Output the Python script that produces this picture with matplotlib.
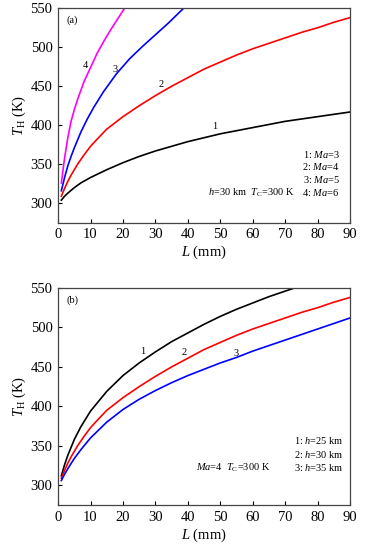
import matplotlib
matplotlib.use("Agg")
import matplotlib.pyplot as plt

plt.rcParams['font.family'] = ['Liberation Serif', 'DejaVu Serif']
plt.rcParams['mathtext.fontset'] = 'custom'
plt.rcParams['mathtext.rm'] = 'Liberation Serif'
plt.rcParams['mathtext.it'] = 'Liberation Serif:italic'

# panel (a): h=30 km, Tc=300 K, different Ma
L_ma3 = [1, 2, 3, 5, 7, 10, 15, 20, 25, 30, 35, 40, 45, 50, 60, 70, 80, 90]
ma3 = [304, 309, 313, 320, 326, 333, 343, 352, 360, 367, 373, 379, 384, 389, 397, 405, 411, 417]
L_ma4 = [1, 2, 3, 4, 5, 6, 7, 8, 10, 12, 15, 20, 25, 30, 35, 40, 45, 50, 55, 60, 65, 70,
         75, 80, 85, 90]
ma4 = [309, 319, 328, 336, 343, 350, 356, 362, 373, 382, 395, 411, 425, 438, 450, 461,
       472, 481, 490, 498, 505, 512, 519, 525, 532, 538]
L_ma5 = [1, 2, 3, 4, 5, 7, 9, 11, 14, 18, 22, 26, 30, 34, 38.7]
ma5 = [316, 333, 348, 360, 371, 391, 408, 423, 443, 466, 485, 501, 516, 531, 550]
L_ma6 = [1, 2, 3, 4, 5, 6, 8, 10, 12, 14, 16, 18, 20.5]
ma6 = [326, 358, 384, 405, 420, 433, 456, 474, 492, 507, 521, 534, 550]

# panel (b): Ma=4, Tc=300 K, different h
L_h25 = [1, 2, 3, 5, 7, 10, 15, 20, 25, 30, 35, 40, 45, 50, 55, 60, 65, 70, 72.9]
h25 = [312, 326, 338, 358, 374, 394, 419, 439, 455, 469, 482, 493, 504, 514, 523, 531,
       539, 546, 550]
L_h30 = L_ma4
h30 = ma4
L_h35 = [1, 2, 3, 5, 7, 10, 15, 20, 25, 30, 35, 40, 45, 50, 55, 60, 65, 70, 75, 80, 85, 90]
h35 = [306, 314, 321, 334, 345, 360, 380, 396, 409, 420, 430, 439, 447, 455, 462, 470,
       477, 484, 491, 498, 505, 512]

xticks = [0, 10, 20, 30, 40, 50, 60, 70, 80, 90]
yticks = [300, 350, 400, 450, 500, 550]

fig = plt.figure(figsize=(3.7, 5.5), dpi=100)
ax1 = fig.add_axes([0.157, 0.595, 0.789, 0.390])
ax2 = fig.add_axes([0.157, 0.0818, 0.789, 0.3946])

for ax in (ax1, ax2):
    ax.set_xlim(0, 90)
    ax.set_ylim(275, 550)
    ax.set_xticks(xticks)
    ax.set_yticks(yticks)
    ax.tick_params(direction='in', labelsize=10.5, length=3, width=0.8, pad=4)
    ax.set_xlabel('$L$ (mm)', fontsize=10.5, labelpad=2)
    ax.set_ylabel('$T_\\mathrm{H}$ (K)', fontsize=10.5, labelpad=2)
    for s in ax.spines.values():
        s.set_linewidth(0.9)
        s.set_color('#444444')

lw = 1.2
ax1.plot(L_ma3, ma3, color='black', lw=lw)
ax1.plot(L_ma4, ma4, color='red', lw=lw)
ax1.plot(L_ma5, ma5, color='blue', lw=lw)
ax1.plot(L_ma6, ma6, color='magenta', lw=lw)

fs = 7.5
ax1.text(48.3, 398, '1', fontsize=fs, ha='center', va='center')
ax1.text(31.9, 452, '2', fontsize=fs, ha='center', va='center')
ax1.text(17.6, 471, '3', fontsize=fs, ha='center', va='center')
ax1.text(8.4, 477, '4', fontsize=fs, ha='center', va='center')
ax1.text(2.6, 535, '(a)', fontsize=fs, ha='left', va='center')
ax1.text(86.8, 363, '1: $Ma$=3', fontsize=fs, ha='right', va='center')
ax1.text(86.8, 347, '2: $Ma$=4', fontsize=fs, ha='right', va='center')
ax1.text(86.8, 331, '3: $Ma$=5', fontsize=fs, ha='right', va='center')
ax1.text(86.8, 314, '4: $Ma$=6', fontsize=fs, ha='right', va='center')
ax1.text(72.9, 314, '$h$=30 km  $T_\\mathrm{C}$=300 K', fontsize=fs, ha='right', va='center')

ax2.plot(L_h25, h25, color='black', lw=lw)
ax2.plot(L_h30, h30, color='red', lw=lw)
ax2.plot(L_h35, h35, color='blue', lw=lw)

ax2.text(26, 470, '1', fontsize=fs, ha='center', va='center')
ax2.text(39, 468, '2', fontsize=fs, ha='center', va='center')
ax2.text(55, 467, '3', fontsize=fs, ha='center', va='center')
ax2.text(2.6, 535, '(b)', fontsize=fs, ha='left', va='center')
ax2.text(88, 357, '1: $h$=25 km', fontsize=fs, ha='right', va='center')
ax2.text(88, 339, '2: $h$=30 km', fontsize=fs, ha='right', va='center')
ax2.text(88, 322, '3: $h$=35 km', fontsize=fs, ha='right', va='center')
ax2.text(42.5, 322, '$Ma$=4  $T_\\mathrm{C}$=300 K', fontsize=fs, ha='left', va='center')

fig.savefig('out.png', dpi=100)
